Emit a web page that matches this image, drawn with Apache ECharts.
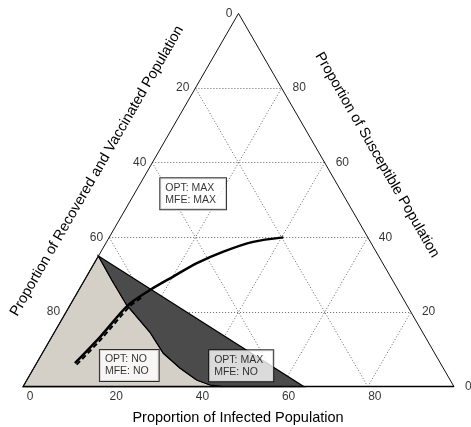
<!DOCTYPE html>
<html>
<head>
<meta charset="utf-8">
<script src="https://cdn.jsdelivr.net/npm/echarts@6/dist/echarts.min.js"></script>
<style>
  html, body { margin: 0; padding: 0; background: #fff; }
  #chart { width: 471px; height: 427px; }
</style>
</head>
<body>
<div id="chart"></div>
<script>
// Ternary points are [infected %, susceptible %]; recovered/vaccinated = 100 - I - S.
const gridSteps = [20, 40, 60, 80];
const infectedTicks = [0, 20, 40, 60, 80];
const recoveredTicks = [0, 20, 40, 60, 80];
const susceptibleTicks = [80, 60, 40, 20, 0];

// Boundary between the "no control" and "max infected-only" regions
const switchCurve = [[0, 35], [6.3, 28.6], [13.1, 21.9], [22.1, 14.65], [28.1, 8.95],
                     [33.9, 5.0], [39.4, 1.8], [43.2, 0.46], [46.4, 0]];
// Upper edge of the dark region
const maxEdge = [[0, 35], [65.2, 0]];

// Trajectories
const pathSolid = [[8.9, 6.3], [11.2, 13.3], [13.5, 21.9], [16.5, 25.9], [20.1, 29.5],
                   [23.8, 33.1], [28.4, 36.2], [34.0, 38.8], [40.4, 40.0]];
const pathDashed = [[9.5, 5.9], [11.8, 12.9], [14.0, 21.5], [15.5, 23.8]];

// Region annotations: [infected, susceptible] at the left-middle of each box
const boxTexts = ['OPT: MAX\nMFE: MAX', 'OPT: NO\nMFE: NO', 'OPT: MAX\nMFE: NO'];
const boxPoints = [[6.0, 51.7], [15.0, 5.7], [40.4, 5.6]];

const FONT = "'Liberation Sans', Arial, Helvetica, sans-serif";

// Ternary -> cartesian (x along base, y = height fraction)
function toXY(p) { return [p[0] + p[1] / 2, p[1]]; }

const lightRegion = [[0, 0]].concat(switchCurve);
const darkRegion = maxEdge.concat(switchCurve.slice(1).reverse());

function polygonSeries(points, fill, z) {
  return {
    type: 'custom',
    coordinateSystem: 'cartesian2d',
    silent: true,
    z: z,
    data: points.map(toXY),
    renderItem: function (params, api) {
      if (params.dataIndex !== 0) return;
      const pts = points.map(function (p) { return api.coord(toXY(p)); });
      return {
        type: 'polygon',
        shape: { points: pts },
        style: { fill: fill, stroke: '#000', lineWidth: 1.2 }
      };
    }
  };
}

// Dotted grid: constant S, constant I, constant R
const gridLines = [];
gridSteps.forEach(function (v) {
  gridLines.push({ coords: [toXY([0, v]), toXY([100 - v, v])] });
  gridLines.push({ coords: [toXY([v, 0]), toXY([v, 100 - v])] });
  gridLines.push({ coords: [toXY([100 - v, 0]), toXY([0, 100 - v])] });
});

const outline = [[100, 0], [0, 100], [0, 0]];
const baseEdge = [[0, 0], [100, 0]];

function labelSeries(points, texts, labelOpt) {
  return {
    type: 'scatter',
    symbolSize: 0,
    silent: true,
    z: 10,
    data: points.map(toXY),
    label: Object.assign({
      show: true,
      color: '#000',
      fontFamily: FONT,
      fontSize: 12,
      formatter: function (p) { return texts[p.dataIndex]; }
    }, labelOpt)
  };
}

const chart = echarts.init(document.getElementById('chart'), null, { renderer: 'canvas' });
chart.setOption({
  animation: false,
  backgroundColor: '#fff',
  grid: { left: 23, top: 13.4, width: 431, height: 373.3 },
  xAxis: { type: 'value', min: 0, max: 100, show: false },
  yAxis: { type: 'value', min: 0, max: 100, show: false },
  graphic: [
    { type: 'text', x: 238, y: 418, silent: true,
      style: { text: 'Proportion of Infected Population', font: '14.5px ' + FONT, fill: '#000',
               align: 'center', verticalAlign: 'middle' } },
    { type: 'text', x: 97, y: 171, rotation: Math.PI / 3, silent: true,
      style: { text: 'Proportion of Recovered and Vaccinated Population', font: '14.5px ' + FONT, fill: '#000',
               align: 'center', verticalAlign: 'middle' } },
    { type: 'text', x: 377, y: 155, rotation: -Math.PI / 3, silent: true,
      style: { text: 'Proportion of Susceptible Population', font: '14.5px ' + FONT, fill: '#000',
               align: 'center', verticalAlign: 'middle' } }
  ],
  series: [
    {
      type: 'lines',
      coordinateSystem: 'cartesian2d',
      silent: true,
      z: 1,
      data: gridLines,
      lineStyle: { color: '#666', width: 1, type: [1, 2], opacity: 1 }
    },
    polygonSeries(lightRegion, '#d4d0c8', 2),
    polygonSeries(darkRegion, '#4b4b4b', 3),
    {
      type: 'line',
      silent: true,
      z: 4,
      symbol: 'none',
      data: outline.map(toXY),
      lineStyle: { color: '#111', width: 1 }
    },
    {
      type: 'line',
      silent: true,
      z: 4,
      symbol: 'none',
      data: baseEdge.map(toXY),
      lineStyle: { color: '#000', width: 1.8 }
    },
    {
      type: 'line',
      silent: true,
      z: 5,
      symbol: 'none',
      smooth: 0.3,
      data: pathDashed.map(toXY),
      lineStyle: { color: '#000', width: 2, type: [5, 3] }
    },
    {
      type: 'line',
      silent: true,
      z: 6,
      symbol: 'none',
      smooth: 0.3,
      data: pathSolid.map(toXY),
      lineStyle: { color: '#000', width: 2.5 }
    },
    labelSeries(boxPoints, boxTexts, {
      position: [0, 0],
      fontSize: 10.5,
      lineHeight: 12,
      align: 'left',
      verticalAlign: 'middle',
      backgroundColor: '#fff',
      borderColor: '#000',
      borderWidth: 1,
      padding: [4, 10, 3, 5]
    }),
    labelSeries(infectedTicks.map(function (v) { return [v, 0]; }),
      infectedTicks.map(String), { position: 'bottom', distance: 4, offset: [7, 0] }),
    labelSeries(recoveredTicks.map(function (v) { return [0, 100 - v]; }),
      recoveredTicks.map(String), { position: 'left', distance: 6 }),
    labelSeries(susceptibleTicks.map(function (v) { return [100 - v, v]; }),
      susceptibleTicks.map(String), { position: 'right', distance: 11 })
  ]
});
</script>
</body>
</html>
